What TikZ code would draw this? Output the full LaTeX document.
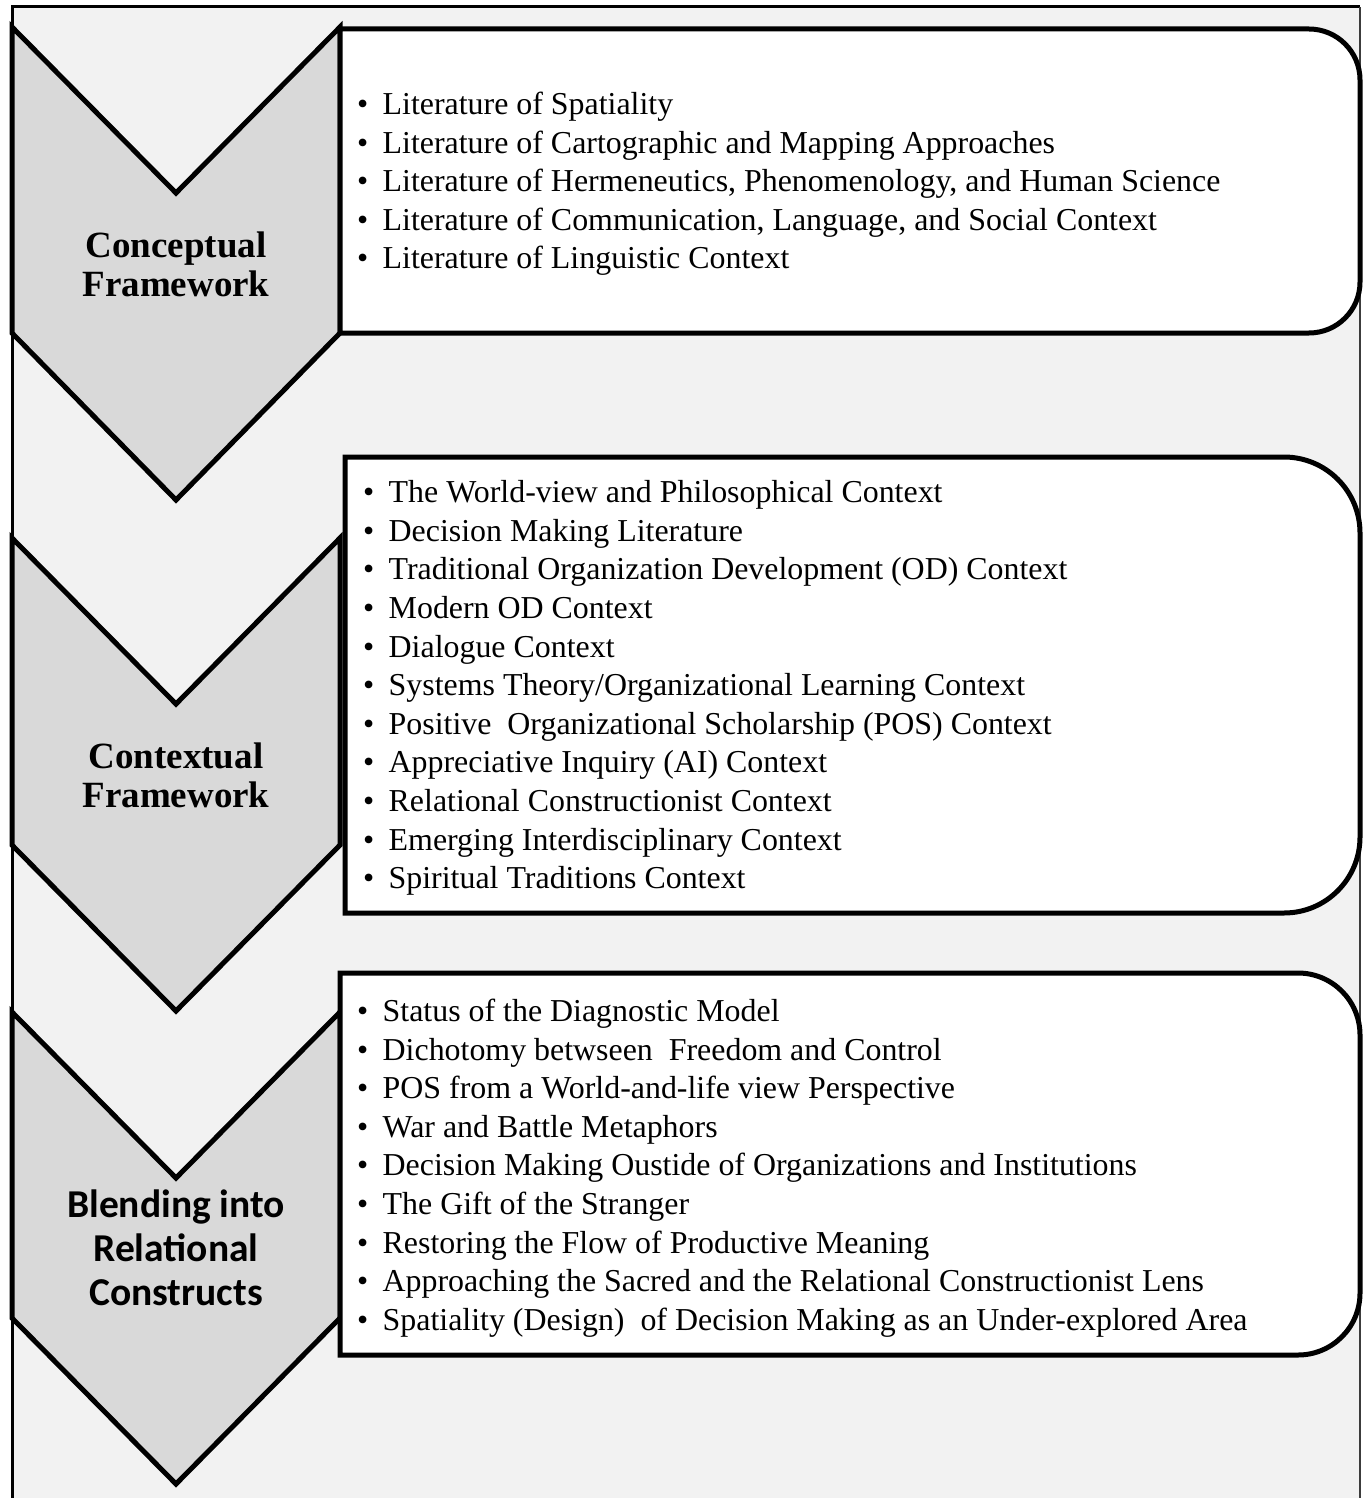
\documentclass[tikz,border=0pt]{standalone}
\usepackage{fontspec}
\setmainfont{Liberation Serif}
\newfontfamily\calibrifont{Carlito}
\definecolor{panelbg}{HTML}{F2F2F2}
\definecolor{chevfill}{HTML}{D9D9D9}
\definecolor{frameedge}{HTML}{3C3C3C}
\newcommand{\itm}{\makebox[0.8em][l]{\textbullet}}
\begin{document}
\begin{tikzpicture}[x=1pt,y=1pt,
  chevron/.style={fill=chevfill,draw=black,line width=5pt,line join=miter},
  listbox/.style={fill=white,draw=black,line width=5pt,line join=miter},
  itemlist/.style={anchor=west,inner sep=0pt,align=left,
    font=\fontsize{31.9}{38.6}\selectfont},
  stagelabel/.style={inner sep=0pt,align=center,
    font=\fontsize{37}{39}\selectfont\bfseries},
  stagelabelsans/.style={inner sep=0pt,align=center,
    font=\fontsize{39.5}{44}\selectfont\calibrifont\bfseries}]
\useasboundingbox (0,0) rectangle (1368,-1498);

% outer panel
\fill[panelbg] (12,-7) rectangle (1360,-1510);
\draw[black,line width=3pt] (12,-1510) -- (12,-7) -- (1360,-7);
\draw[frameedge,line width=2pt] (1360,-7) -- (1360,-1510);

% chevrons (top, notch, side end, tip)
\draw[chevron] (12,-27) -- (176,-193) -- (340,-27) -- (340,-333) -- (176,-500) -- (12,-333) -- cycle;
\draw[chevron] (12,-538) -- (176,-704) -- (340,-538) -- (340,-845) -- (176,-1011) -- (12,-845) -- cycle;
\draw[chevron] (12,-1012) -- (176,-1178) -- (340,-1012) -- (340,-1318) -- (176,-1484) -- (12,-1318) -- cycle;

% list boxes, rounded on the right only
\draw[listbox] (340,-29) -- (1309,-29) arc[start angle=90,end angle=0,radius=51pt]
  -- (1360,-282) arc[start angle=0,end angle=-90,radius=51pt] -- (340,-333) -- cycle;
\draw[listbox] (345,-457) -- (1284,-457) arc[start angle=90,end angle=0,radius=76pt]
  -- (1360,-837) arc[start angle=0,end angle=-90,radius=76pt] -- (345,-913) -- cycle;
\draw[listbox] (340,-973) -- (1298,-973) arc[start angle=90,end angle=0,radius=62pt]
  -- (1360,-1293) arc[start angle=0,end angle=-90,radius=62pt] -- (340,-1355) -- cycle;

% stage labels
\node[stagelabel] (conceptual) at (176,-264) {Conceptual\\Framework};
\node[stagelabel] (contextual) at (176,-775) {Contextual\\Framework};
\node[stagelabelsans] (blending) at (176,-1248) {Blending into\\Relational\\Constructs};

% item lists
\node[itemlist] (list1) at (357,-184) {%
\itm Literature of Spatiality\\
\itm Literature of Cartographic and Mapping Approaches\\
\itm Literature of Hermeneutics, Phenomenology, and Human Science\\
\itm Literature of Communication, Language, and Social Context\\
\itm Literature of Linguistic Context};

\node[itemlist] (list2) at (363,-688) {%
\itm The World-view and Philosophical Context\\
\itm Decision Making Literature\\
\itm Traditional Organization Development (OD) Context\\
\itm Modern OD Context\\
\itm Dialogue Context\\
\itm Systems Theory/Organizational Learning Context\\
\itm Positive\ \ Organizational Scholarship (POS) Context\\
\itm Appreciative Inquiry (AI) Context\\
\itm Relational Constructionist Context\\
\itm Emerging Interdisciplinary Context\\
\itm Spiritual Traditions Context};

\node[itemlist] (list3) at (357,-1168) {%
\itm Status of the Diagnostic Model\\
\itm Dichotomy betwseen\ \ Freedom and Control\\
\itm POS from a World-and-life view Perspective\\
\itm War and Battle Metaphors\\
\itm Decision Making Oustide of Organizations and Institutions\\
\itm The Gift of the Stranger\\
\itm Restoring the Flow of Productive Meaning\\
\itm Approaching the Sacred and the Relational Constructionist Lens\\
\itm Spatiality (Design)\ \ of Decision Making as an Under-explored Area};
\end{tikzpicture}
\end{document}
